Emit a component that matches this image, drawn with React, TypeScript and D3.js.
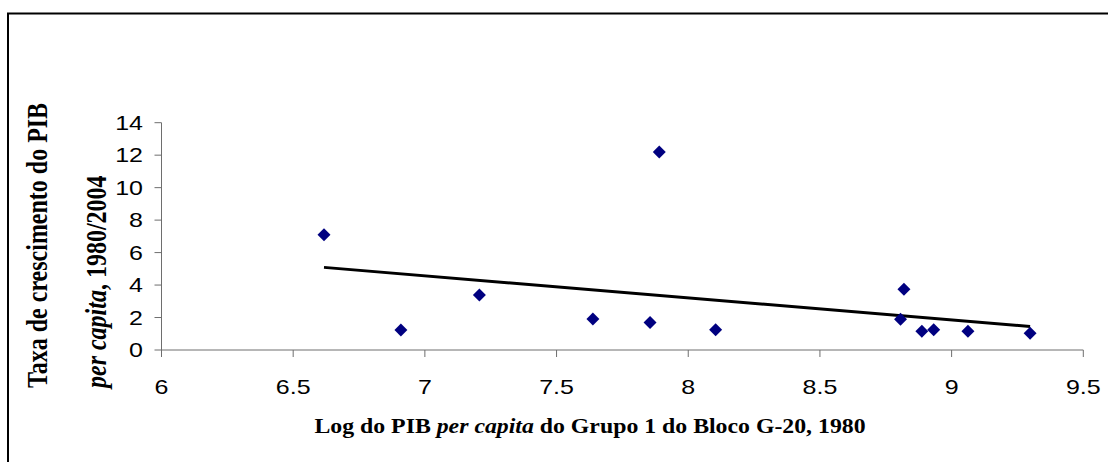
import React from "react";
import * as d3 from "d3";

// Log GDP per capita 1980 (x) vs growth rate 1980/2004 (y)
const logPib: number[] = [6.617, 6.909, 7.207, 7.638, 7.855, 7.89, 8.104, 8.806, 8.819, 8.887, 8.932, 9.062, 9.298];
const taxa: number[] = [7.10, 1.23, 3.39, 1.91, 1.70, 12.2, 1.25, 1.89, 3.74, 1.15, 1.25, 1.15, 1.03];
const xTicks: number[] = [6, 6.5, 7, 7.5, 8, 8.5, 9, 9.5];
const yTicks: number[] = [0, 2, 4, 6, 8, 10, 12, 14];

const W = 1108;
const H = 462;
const SX = 1.19; // horizontal stretch of the original picture
const SANS = "'Liberation Sans', Arial, sans-serif";
const SERIF = "'Liberation Serif', 'Times New Roman', serif";

export default function App() {
  const x = d3.scaleLinear().domain([6, 9.5]).range([161.5, 1083.3]);
  const y = d3.scaleLinear().domain([0, 14]).range([350, 122.7]);

  // least squares trend line
  const mx = d3.mean(logPib) as number;
  const my = d3.mean(taxa) as number;
  const sxy = d3.sum(logPib, (v, i) => (v - mx) * (taxa[i] - my));
  const sxx = d3.sum(logPib, (v) => (v - mx) * (v - mx));
  const slope = sxy / sxx;
  const icpt = my - slope * mx;
  const x0 = d3.min(logPib) as number;
  const x1 = d3.max(logPib) as number;
  const trend = d3.line<number>().x((v) => x(v)).y((v) => y(icpt + slope * v));

  const diamond = d3.symbol().type(d3.symbolSquare).size(84)() as string;
  const axisColor = "#6e6e6e";

  return (
    <svg width={W} height={H} style={{ position: "absolute", left: 0, top: 0 }}>
      <rect x={0} y={0} width={W} height={H} fill="#fff" />
      <rect x={8} y={13.5} width={1200} height={600} fill="none" stroke="#000" strokeWidth={2} />

      {/* y axis */}
      <line x1={x(6)} x2={x(6)} y1={y(0)} y2={y(14)} stroke={axisColor} strokeWidth={1} />
      {yTicks.map((t) => (
        <g key={"y" + t}>
          <line x1={x(6) - 7} x2={x(6)} y1={y(t)} y2={y(t)} stroke={axisColor} strokeWidth={1} />
          <text
            transform={`translate(143,${y(t)}) scale(${SX},1)`}
            textAnchor="end"
            dominantBaseline="central"
            fontFamily={SANS}
            fontSize={21}
            fill="#000"
          >
            {t}
          </text>
        </g>
      ))}

      {/* x axis */}
      <line x1={x(6)} x2={x(9.5)} y1={y(0)} y2={y(0)} stroke={axisColor} strokeWidth={1} />
      {xTicks.map((t) => (
        <g key={"x" + t}>
          <line x1={x(t)} x2={x(t)} y1={y(0)} y2={y(0) + 7} stroke={axisColor} strokeWidth={1} />
          <text
            transform={`translate(${x(t)},394) scale(${SX},1)`}
            textAnchor="middle"
            fontFamily={SANS}
            fontSize={21}
            fill="#000"
          >
            {t}
          </text>
        </g>
      ))}

      {/* trend line */}
      <path d={trend([x0, x1]) as string} fill="none" stroke="#000" strokeWidth={3} />

      {/* points */}
      {logPib.map((v, i) => (
        <path
          key={"p" + i}
          d={diamond}
          transform={`translate(${x(v)},${y(taxa[i])}) rotate(45)`}
          fill="#000080"
        />
      ))}

      {/* x title */}
      <text
        transform={`translate(590,433) scale(${SX},1)`}
        textAnchor="middle"
        fontFamily={SERIF}
        fontWeight="bold"
        fontSize={20}
        fill="#000"
      >
        Log do PIB <tspan fontStyle="italic">per capita</tspan> do Grupo 1 do Bloco G-20, 1980
      </text>

      {/* y title */}
      <text
        transform={`translate(47,388) scale(${SX},1) rotate(-90)`}
        textAnchor="start"
        fontFamily={SERIF}
        fontWeight="bold"
        fontSize={24}
        fill="#000"
      >
        Taxa de crescimento do PIB
      </text>
      <text
        transform={`translate(106,388) scale(${SX},1) rotate(-90)`}
        textAnchor="start"
        fontFamily={SERIF}
        fontWeight="bold"
        fontSize={24}
        fill="#000"
      >
        <tspan fontStyle="italic">per capita</tspan>, 1980/2004
      </text>
    </svg>
  );
}
